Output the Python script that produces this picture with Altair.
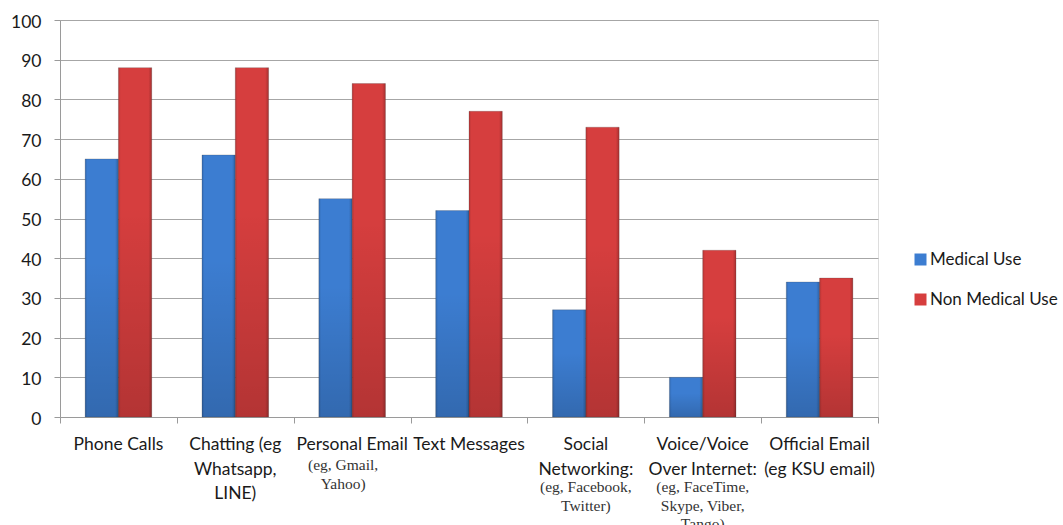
import altair as alt
import pandas as pd

categories = ["Phone Calls", "Chatting", "Personal Email", "Text Messages",
              "Social Networking", "Voice over Internet", "Official Email"]
main_labels = ["Phone Calls", "Chatting (eg\nWhatsapp,\nLINE)", "Personal Email",
               "Text Messages", "Social\nNetworking:", "Voice/Voice\nOver Internet:",
               "Official Email\n(eg KSU email)"]
sub_labels = ["", "", "(eg, Gmail,\nYahoo)", "", "(eg, Facebook,\nTwitter)",
              "(eg, FaceTime,\nSkype, Viber,\nTango)", ""]
series = ["Medical Use", "Non Medical Use"]
medical = [65, 66, 55, 52, 27, 10, 34]
non_medical = [88, 88, 84, 77, 73, 42, 35]
y_ticks = [0, 10, 20, 30, 40, 50, 60, 70, 80, 90, 100]

rows = []
for c, m, n in zip(categories, medical, non_medical):
    rows.append({"category": c, "series": series[0], "value": m})
    rows.append({"category": c, "series": series[1], "value": n})
bars_df = pd.DataFrame(rows)

lab_df = pd.DataFrame({
    "category": categories,
    "main": main_labels,
    "sub": sub_labels,
    "nmain": [len(s.split("\n")) for s in main_labels],
})

W, H = 818, 397
FS = 17.5

x_enc = alt.X("category:N", sort=categories,
              scale=alt.Scale(paddingInner=0, paddingOuter=0),
              axis=alt.Axis(title=None, labels=False, tickBand="extent",
                            tickSize=6, tickColor="#9a9a9a",
                            domainColor="#9a9a9a", grid=False))
y_enc = alt.Y("value:Q", scale=alt.Scale(domain=[0, 100], nice=False),
              axis=alt.Axis(title=None, values=y_ticks,
                            tickSize=6, tickColor="#9a9a9a", domainColor="#9a9a9a",
                            gridColor="#a6a6a6", labelFont="Lato",
                            labelFontSize=FS, labelColor="#1a1a1a",
                            labelPadding=13, labelOffset=2))
xoff = alt.XOffset("series:N", sort=series,
                   scale=alt.Scale(paddingOuter=0.755, paddingInner=0))

base = alt.Chart(bars_df)

bars = base.mark_bar(stroke="#444444", strokeOpacity=0.3, strokeWidth=0.8).encode(
    x=x_enc, y=y_enc, xOffset=xoff,
    color=alt.Color("series:N", sort=series,
                    scale=alt.Scale(domain=series, range=["#3c7dd1", "#d63e3e"]),
                    legend=alt.Legend(title=None, orient="none", legendX=852,
                                      legendY=231, symbolType="square",
                                      symbolSize=144, labelFont="Lato",
                                      labelFontSize=17, labelColor="#1a1a1a",
                                      rowPadding=22, labelOffset=1, padding=0,
                                      symbolStrokeWidth=0, labelLimit=300)),
)

shade_v = base.mark_bar(color={
    "gradient": "linear", "x1": 0, "y1": 0, "x2": 0, "y2": 1,
    "stops": [{"offset": 0, "color": "rgba(255,255,255,0.0)"},
              {"offset": 0.4, "color": "rgba(0,0,0,0.0)"},
              {"offset": 1, "color": "rgba(0,0,0,0.16)"}]}).encode(
    x=x_enc, y=y_enc, xOffset=xoff)

shade_h = base.mark_bar(color={
    "gradient": "linear", "x1": 0, "y1": 0, "x2": 1, "y2": 0,
    "stops": [{"offset": 0, "color": "rgba(0,0,0,0.15)"},
              {"offset": 0.07, "color": "rgba(0,0,0,0.0)"},
              {"offset": 0.9, "color": "rgba(0,0,0,0.0)"},
              {"offset": 1, "color": "rgba(0,0,0,0.22)"}]}).encode(
    x=x_enc, y=y_enc, xOffset=xoff)

main_text = alt.Chart(lab_df).mark_text(
    font="Lato", fontSize=FS, color="#1a1a1a", lineBreak="\n",
    lineHeight=24.5, baseline="middle", align="center").encode(
    x=alt.X("category:N", sort=categories), y=alt.value(425), text="main:N")

sub1 = alt.Chart(lab_df).transform_filter("datum.nmain == 1 && datum.sub != ''").mark_text(
    font="Liberation Serif", fontSize=15.5, color="#333333", lineBreak="\n",
    lineHeight=18.5, baseline="middle", align="center", dx=-9).encode(
    x=alt.X("category:N", sort=categories), y=alt.value(445), text="sub:N")

sub2 = alt.Chart(lab_df).transform_filter("datum.nmain == 2 && datum.sub != ''").mark_text(
    font="Liberation Serif", fontSize=15.5, color="#333333", lineBreak="\n",
    lineHeight=18.5, baseline="middle", align="center").encode(
    x=alt.X("category:N", sort=categories), y=alt.value(467), text="sub:N")

chart = alt.layer(bars, shade_v, shade_h, main_text, sub1, sub2).properties(
    width=W, height=H,
    autosize=alt.AutoSizeParams(type="none"),
    padding={"left": 60, "top": 20, "right": 185, "bottom": 108},
).configure_view(stroke=None).configure(background="white")

chart.save("out.html", embed_options={"renderer": "svg", "actions": False})
